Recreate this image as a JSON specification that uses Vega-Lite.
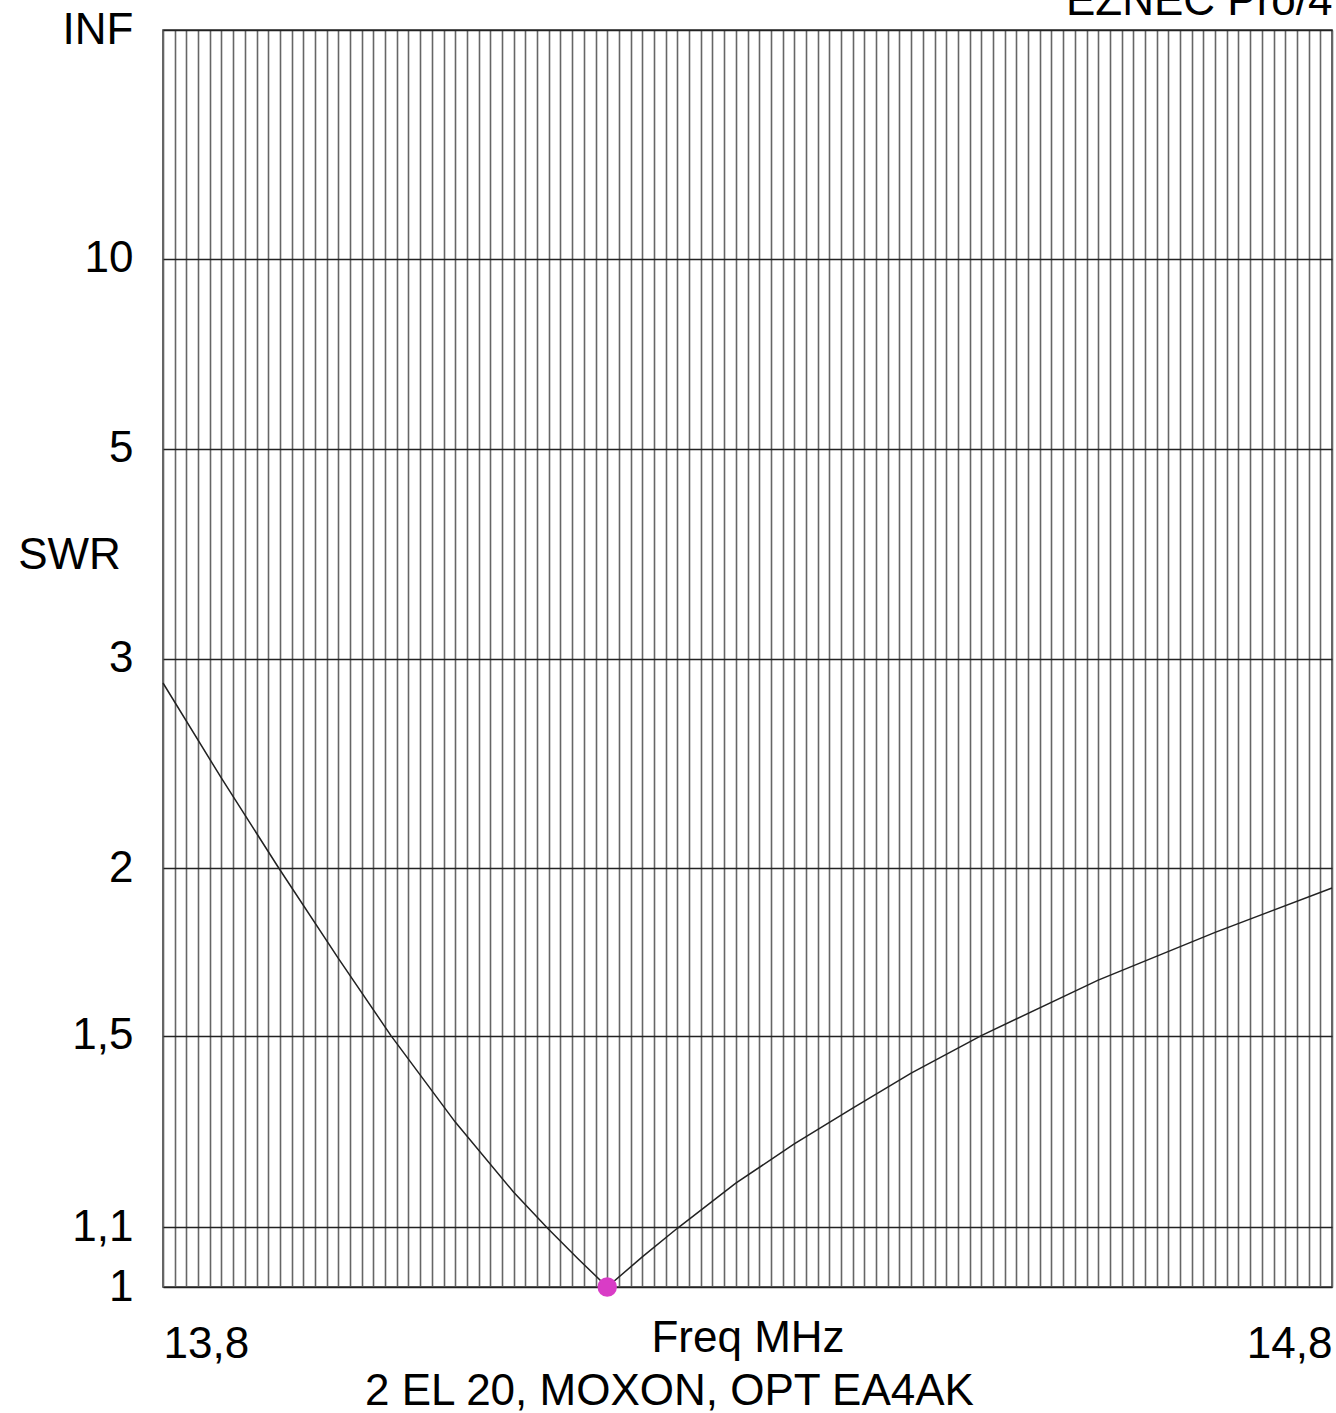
{
  "$schema": "https://vega.github.io/schema/vega-lite/v6.json",
  "width": 1169,
  "height": 1257,
  "autosize": "none",
  "padding": {"left": 163, "top": 30, "right": 4, "bottom": 126},
  "background": "white",
  "config": {
    "font": "Liberation Sans",
    "view": {"stroke": "#333333", "strokeWidth": 1.5},
    "axis": {"labelColor": "black", "titleColor": "black", "titleFontWeight": "normal"}
  },
  "title": {
    "text": "2 EL 20, MOXON, OPT EA4AK",
    "orient": "bottom",
    "anchor": "middle",
    "frame": "group",
    "dx": -78,
    "offset": 4,
    "fontSize": 44,
    "fontWeight": "normal",
    "color": "black"
  },
  "data": {
    "values": [
      {"freq": 13.800, "swr": 2.85},
      {"freq": 13.850, "swr": 2.36},
      {"freq": 13.899, "swr": 2.00},
      {"freq": 13.950, "swr": 1.708},
      {"freq": 13.995, "swr": 1.50},
      {"freq": 14.050, "swr": 1.302},
      {"freq": 14.100, "swr": 1.163},
      {"freq": 14.129, "swr": 1.098},
      {"freq": 14.155, "swr": 1.046},
      {"freq": 14.180, "swr": 1.00},
      {"freq": 14.210, "swr": 1.049},
      {"freq": 14.240, "swr": 1.098},
      {"freq": 14.290, "swr": 1.18},
      {"freq": 14.340, "swr": 1.257},
      {"freq": 14.390, "swr": 1.332},
      {"freq": 14.440, "swr": 1.41},
      {"freq": 14.500, "swr": 1.50},
      {"freq": 14.600, "swr": 1.646},
      {"freq": 14.700, "swr": 1.786},
      {"freq": 14.800, "swr": 1.93}
    ]
  },
  "transform": [
    {"calculate": "(datum.swr - 1) / (datum.swr + 1)", "as": "gamma"}
  ],
  "layer": [
    {
      "mark": {"type": "line", "color": "#222222", "strokeWidth": 1.5},
      "encoding": {
        "x": {
          "field": "freq",
          "type": "quantitative",
          "scale": {"domain": [13.8, 14.8], "nice": false, "zero": false},
          "axis": {
            "orient": "bottom",
            "tickCount": 100,
            "grid": true,
            "gridColor": "#666666",
            "gridWidth": 1.6,
            "ticks": false,
            "domain": false,
            "labelExpr": "abs(datum.value - 13.8) < 0.001 ? '13,8' : abs(datum.value - 14.8) < 0.001 ? '14,8' : ''",
            "labelFontSize": 44,
            "labelPadding": 35,
            "labelOverlap": false,
            "labelFlush": true,
            "title": "Freq MHz",
            "titleFontSize": 44,
            "titleY": 51,
            "titleBaseline": "middle"
          }
        },
        "y": {
          "field": "gamma",
          "type": "quantitative",
          "scale": {"domain": [0, 1], "nice": false, "zero": true},
          "axis": {
            "values": [0, 0.047619, 0.2, 0.333333, 0.5, 0.666667, 0.818182, 1],
            "labelExpr": "datum.value > 0.999 ? 'INF' : replace(format((1 + datum.value) / (1 - datum.value), '.2~f'), '.', ',')",
            "grid": true,
            "gridColor": "#222222",
            "gridWidth": 1.4,
            "ticks": false,
            "domain": false,
            "labelFontSize": 44,
            "labelPadding": 30,
            "labelBaseline": "middle",
            "labelOverlap": false,
            "title": "SWR",
            "titleAngle": 0,
            "titleX": -94,
            "titleY": 525,
            "titleAlign": "center",
            "titleBaseline": "middle",
            "titleFontSize": 44
          }
        }
      }
    },
    {
      "transform": [{"filter": "datum.swr == 1"}],
      "mark": {"type": "circle", "size": 380, "color": "#d93cc6", "opacity": 1},
      "encoding": {
        "x": {
          "field": "freq",
          "type": "quantitative",
          "axis": {
            "orient": "top",
            "grid": false,
            "ticks": false,
            "domain": false,
            "labels": false,
            "title": "EZNEC Pro/4",
            "titleAnchor": "end",
            "titleAlign": "right",
            "titleX": 1169,
            "titleY": -16,
            "titleBaseline": "alphabetic",
            "titleFontSize": 44
          }
        },
        "y": {"field": "gamma", "type": "quantitative"}
      }
    }
  ],
  "resolve": {"axis": {"x": "independent"}}
}
